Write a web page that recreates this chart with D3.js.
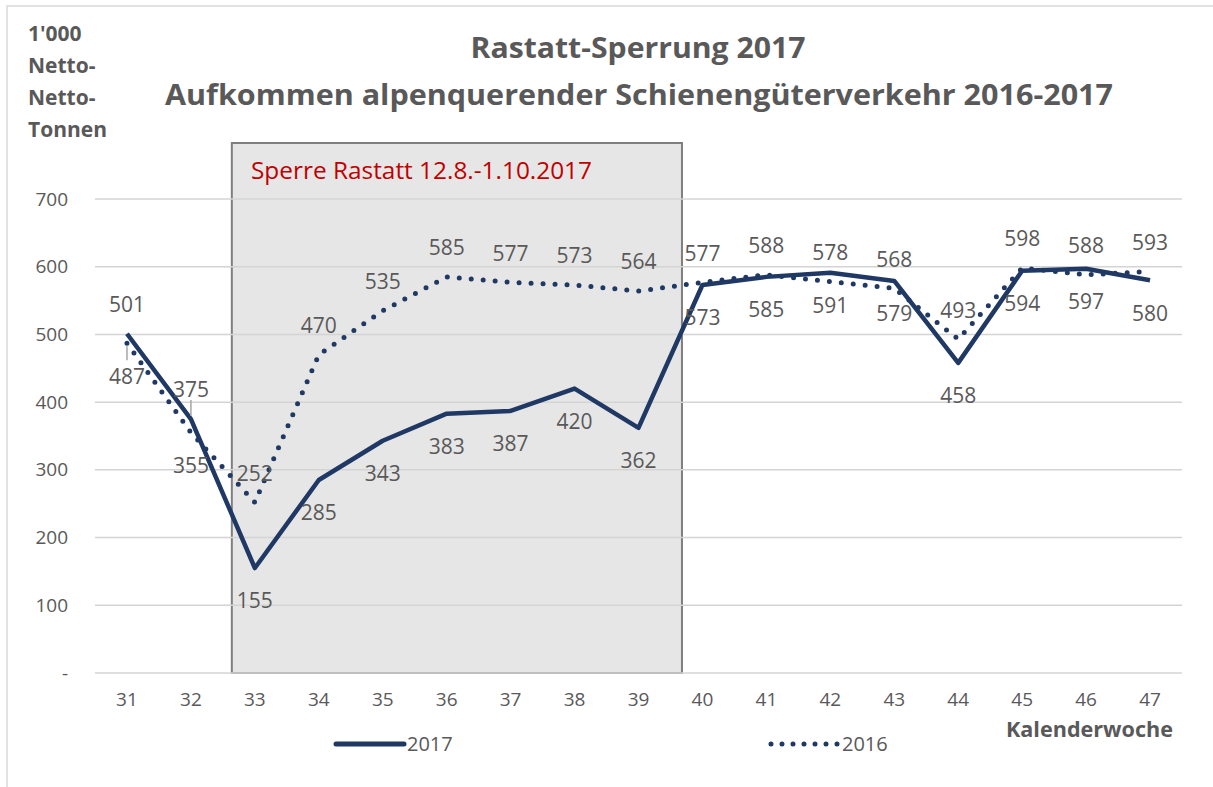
<!DOCTYPE html>
<html>
<head>
<meta charset="utf-8">
<script src="https://cdn.jsdelivr.net/npm/d3@7"></script>
<style>
  html, body { margin: 0; padding: 0; background: #fff; }
  svg { display: block; font-family: "Open Sans", "Liberation Sans", sans-serif; }
</style>
</head>
<body>
<svg id="chart" width="1213" height="787"></svg>
<script>
// ---------- data ----------
const weeks = ["31","32","33","34","35","36","37","38","39","40","41","42","43","44","45","46","47"];
const values2017 = [501, 375, 155, 285, 343, 383, 387, 420, 362, 573, 585, 591, 579, 458, 594, 597, 580];
const values2016 = [487, 355, 252, 470, 535, 585, 577, 573, 564, 577, 588, 578, 568, 493, 598, 588, 593];
const labelSide2017 = ["above","above","below","below","below","below","below","below","below","below","below","below","below","below","below","below","below"];
const labelSide2016 = ["below","below","above","above","above","above","above","above","above","above","above","above","above","above","above","above","above"];
const yTicks = [0, 100, 200, 300, 400, 500, 600, 700];
const seriesNames = ["2017", "2016"];
const titleLines = ["Rastatt-Sperrung 2017", "Aufkommen alpenquerender Schienengüterverkehr 2016-2017"];
const yTitleLines = ["1'000", "Netto-", "Netto-", "Tonnen"];
const xTitle = "Kalenderwoche";
const closureText = "Sperre Rastatt 12.8.-1.10.2017";
const closureStart = "33", closureEnd = "39";

// ---------- setup ----------
const svg = d3.select("#chart");
const navy = "#1f3864";
const grey = "#595959";

const x = d3.scaleBand().domain(weeks).range([95, 1182]).padding(0);
const y = d3.scaleLinear().domain([0, 700]).range([673, 199]);
const cx = w => x(w) + x.bandwidth() / 2;

// outer border
svg.append("rect").attr("x", 7).attr("y", 6).attr("width", 1220).attr("height", 800)
  .attr("fill", "none").attr("stroke", "#d9d9d9").attr("stroke-width", 1.5);

// closure box
const step = x.step();
const boxL = cx(closureStart) - 0.36 * step;
const boxR = cx(closureEnd) + 0.68 * step;
svg.append("rect")
  .attr("x", boxL).attr("y", 143)
  .attr("width", boxR - boxL).attr("height", y(0) - 143)
  .attr("fill", "#e6e6e6").attr("stroke", "#7f7f7f").attr("stroke-width", 2);

// gridlines
svg.append("g").selectAll("line").data(yTicks).join("line")
  .attr("x1", 95).attr("x2", 1182)
  .attr("y1", d => y(d)).attr("y2", d => y(d))
  .attr("stroke", "#d4d4d4").attr("stroke-width", 1.5);

// closure text
svg.append("text").attr("x", 251).attr("y", 179)
  .attr("fill", "#c00000").attr("font-size", 23)
  .attr("textLength", 341).attr("lengthAdjust", "spacingAndGlyphs")
  .text(closureText);

// y axis
const yAxis = d3.axisLeft(y).tickValues(yTicks).tickSize(0).tickPadding(0)
  .tickFormat(d => d === 0 ? "-" : d3.format("d")(d));
const yg = svg.append("g").attr("transform", "translate(68,0)").call(yAxis);
yg.select(".domain").remove();
yg.selectAll("text").attr("fill", grey).attr("font-size", 19)
  .attr("font-family", "Open Sans, sans-serif");

// x axis
const xAxis = d3.axisBottom(x).tickSize(0).tickPadding(0);
const xg = svg.append("g").attr("transform", "translate(0,692)").call(xAxis);
xg.select(".domain").remove();
xg.selectAll("text").attr("fill", grey).attr("font-size", 19)
  .attr("font-family", "Open Sans, sans-serif");

// lines
const line = d3.line().x((d, i) => cx(weeks[i])).y(d => y(d));
svg.append("path").datum(values2016).attr("d", line)
  .attr("fill", "none").attr("stroke", navy).attr("stroke-width", 5)
  .attr("stroke-linecap", "round").attr("stroke-dasharray", "0 12");
svg.append("path").datum(values2017).attr("d", line)
  .attr("fill", "none").attr("stroke", navy).attr("stroke-width", 4.5)
  .attr("stroke-linejoin", "round");

// leader lines
function leader(week, val, side) {
  const px = cx(week), py = y(val);
  const y1 = side === "above" ? py - 3 : py + 3;
  const y2 = side === "above" ? py - 19 : py + 17;
  svg.append("line").attr("x1", px).attr("x2", px).attr("y1", y1).attr("y2", y2)
    .attr("stroke", "#a6a6a6").attr("stroke-width", 1.5);
}
leader("31", values2016[0], "below");
leader("32", values2017[1], "above");

// data labels
function labels(vals, sides) {
  svg.append("g").selectAll("text").data(vals).join("text")
    .attr("x", (d, i) => cx(weeks[i]))
    .attr("y", (d, i) => sides[i] === "above" ? y(d) - 29 : y(d) + 33)
    .attr("dy", "0.35em")
    .attr("text-anchor", "middle")
    .attr("fill", grey).attr("font-size", 21)
    .text(d => d);
}
labels(values2017, labelSide2017);
labels(values2016, labelSide2016);

// titles
svg.append("text").attr("x", 638).attr("y", 58).attr("text-anchor", "middle")
  .attr("font-weight", "bold").attr("font-size", 28).attr("fill", grey)
  .attr("textLength", 335).attr("lengthAdjust", "spacingAndGlyphs")
  .text(titleLines[0]);
svg.append("text").attr("x", 639).attr("y", 105).attr("text-anchor", "middle")
  .attr("font-weight", "bold").attr("font-size", 28).attr("fill", grey)
  .attr("textLength", 948).attr("lengthAdjust", "spacingAndGlyphs")
  .text(titleLines[1]);

// y title
svg.append("g").selectAll("text").data(yTitleLines).join("text")
  .attr("x", 28).attr("y", (d, i) => 41 + i * 32)
  .attr("font-weight", "bold").attr("font-size", 21).attr("fill", grey)
  .text(d => d);

// x title
svg.append("text").attr("x", 1173).attr("y", 737).attr("text-anchor", "end")
  .attr("font-weight", "bold").attr("font-size", 21).attr("fill", grey)
  .attr("textLength", 167).attr("lengthAdjust", "spacingAndGlyphs")
  .text(xTitle);

// legend
const legend = [
  { name: seriesNames[0], x0: 336, dash: null, w: 5 },
  { name: seriesNames[1], x0: 771, dash: "0 11", w: 5 }
];
legend.forEach(l => {
  const ln = svg.append("line").attr("x1", l.x0).attr("x2", l.x0 + 68)
    .attr("y1", 744).attr("y2", 744).attr("stroke", navy).attr("stroke-width", l.w)
    .attr("stroke-linecap", "round");
  if (l.dash) ln.attr("stroke-dasharray", l.dash);
  svg.append("text").attr("x", l.x0 + 71).attr("y", 744).attr("dy", "0.35em")
    .attr("fill", grey).attr("font-size", 20).text(l.name);
});
</script>
</body>
</html>
